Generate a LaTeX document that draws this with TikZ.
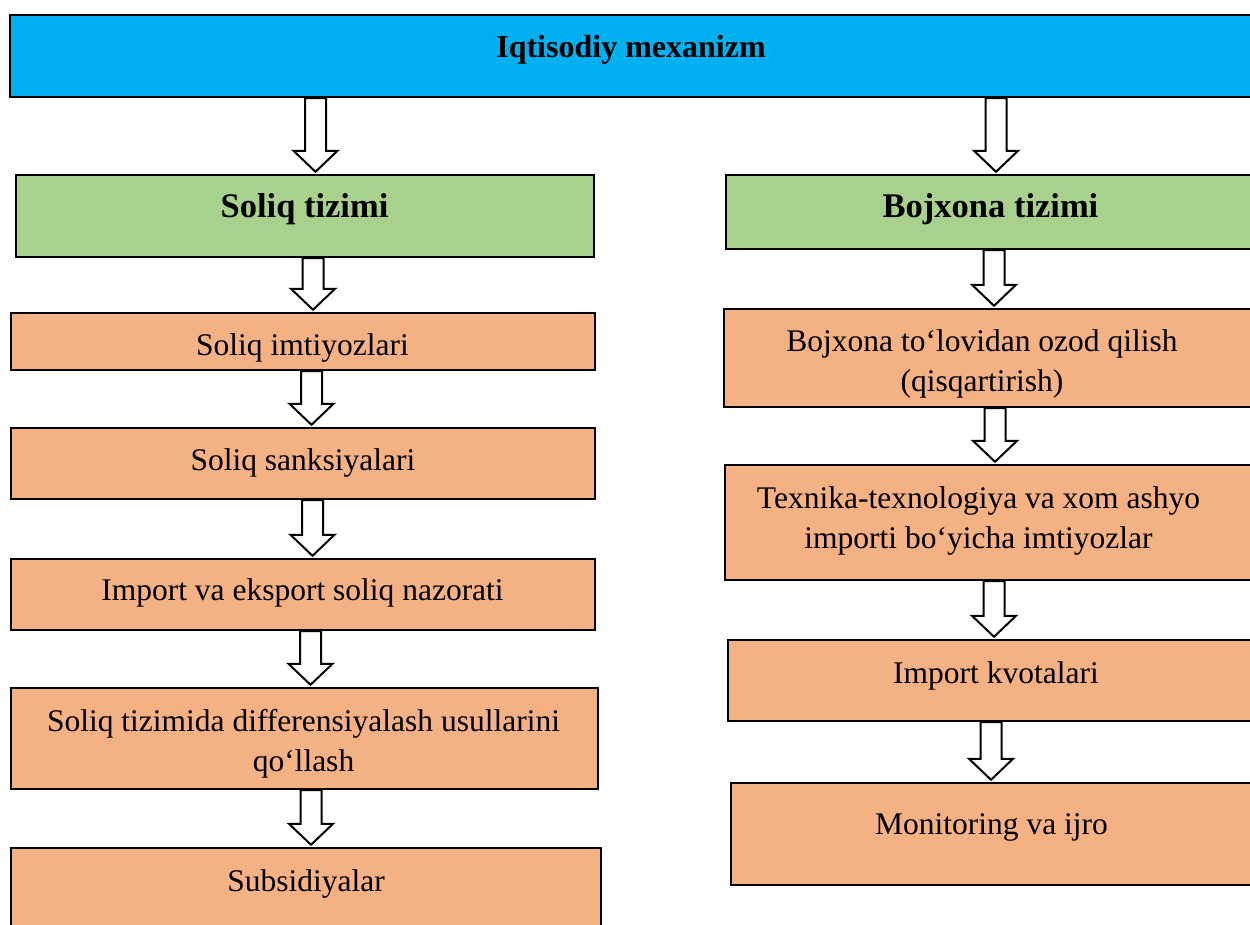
\documentclass[tikz,border=0pt]{standalone}
\usepackage{fontspec}
\setmainfont{Liberation Serif}
\usetikzlibrary{calc,fit}
\definecolor{topblue}{HTML}{00B0F0}
\definecolor{hdrgreen}{HTML}{A9D18E}
\definecolor{itemorange}{HTML}{F4B183}
\newcommand\blockarr[3]{%
  \draw[blockarrow] let \p1=(#1.south -| #3), \p2=(#2.north -| #3) in
    (\x1-10.5pt,\y1) -- (\x1-10.5pt,\y2+23pt) -- (\x1-22pt,\y2+23pt) --
    (\x1,\y2+2pt) -- (\x1+22pt,\y2+23pt) -- (\x1+10.5pt,\y2+23pt) --
    (\x1+10.5pt,\y1) -- cycle;}
\begin{document}
\begin{tikzpicture}[x=1pt,y=-1pt,
  box/.style={draw=black, line width=2.4pt, inner sep=0pt, rectangle},
  bluebox/.style={box, fill=topblue},
  greenbox/.style={box, fill=hdrgreen},
  orangebox/.style={box, fill=itemorange},
  lbl/.style={font=\fontsize{31.5pt}{40pt}\selectfont, inner sep=0pt, align=center},
  hdr/.style={font=\fontsize{34.5pt}{40pt}\selectfont\bfseries, inner sep=0pt},
  ttl/.style={font=\fontsize{32pt}{40pt}\selectfont\bfseries, inner sep=0pt},
  blockarrow/.style={draw=black, fill=white, line width=2pt, line join=miter}]
\useasboundingbox (0,0) rectangle (1250,925);
\clip (0,0) rectangle (1250,925);
\fill[white] (0,0) rectangle (1250,925);

% boxes
\node[bluebox, fit={(10,15) (1262,97)}] (top) {};
\node[greenbox, fit={(16,175) (594,257)}] (soliq) {};
\node[greenbox, fit={(726,175) (1262,249)}] (bojx) {};
\node[orangebox, fit={(11,313) (595,370)}] (s1) {};
\node[orangebox, fit={(11,428) (595,499)}] (s2) {};
\node[orangebox, fit={(11,559) (595,630)}] (s3) {};
\node[orangebox, fit={(11,688) (598,789)}] (s4) {};
\node[orangebox, fit={(11,848) (601,945)}] (s5) {};
\node[orangebox, fit={(724,309) (1262,407)}] (b1) {};
\node[orangebox, fit={(725,465) (1262,580)}] (b2) {};
\node[orangebox, fit={(728,640) (1262,721)}] (b3) {};
\node[orangebox, fit={(731,783) (1262,885)}] (b4) {};

% texts
\node[ttl, anchor=base] (topt) at (631,58) {Iqtisodiy mexanizm};
\node[hdr, anchor=base] (soliqt) at (304.5,218) {Soliq tizimi};
\node[hdr, anchor=base] (bojxt) at (990.5,218) {Bojxona tizimi};
\node[lbl, anchor=base] (s1t) at (302.5,355) {Soliq imtiyozlari};
\node[lbl, anchor=base] (s2t) at (303,470) {Soliq sanksiyalari};
\node[lbl, anchor=base] (s3t) at (302.5,600) {Import va eksport soliq nazorati};
\node[lbl] (s4t) at (303.5,743.5) {Soliq tizimida differensiyalash usullarini\\qo‘llash};
\node[lbl, anchor=base] (s5t) at (306,891) {Subsidiyalar};
\node[lbl] (b1t) at (982,363.5) {Bojxona to‘lovidan ozod qilish\\(qisqartirish)};
\node[lbl] (b2t) at (978.5,520.5) {Texnika-texnologiya va xom ashyo\\importi bo‘yicha imtiyozlar};
\node[lbl, anchor=base] (b3t) at (996,683) {Import kvotalari};
\node[lbl, anchor=base] (b4t) at (991.5,834) {Monitoring va ijro};

% arrow axes
\coordinate (xa1) at (315.5,0);
\coordinate (xa2) at (996,0);
\coordinate (xa3) at (313,0);
\coordinate (xa4) at (311.5,0);
\coordinate (xa5) at (312.5,0);
\coordinate (xa6) at (310.5,0);
\coordinate (xa7) at (311,0);
\coordinate (xb1) at (994,0);
\coordinate (xb2) at (995,0);
\coordinate (xb3) at (994,0);
\coordinate (xb4) at (991,0);

% arrows
\blockarr{top}{soliq}{xa1}
\blockarr{top}{bojx}{xa2}
\blockarr{soliq}{s1}{xa3}
\blockarr{s1}{s2}{xa4}
\blockarr{s2}{s3}{xa5}
\blockarr{s3}{s4}{xa6}
\blockarr{s4}{s5}{xa7}
\blockarr{bojx}{b1}{xb1}
\blockarr{b1}{b2}{xb2}
\blockarr{b2}{b3}{xb3}
\blockarr{b3}{b4}{xb4}
\end{tikzpicture}
\end{document}
